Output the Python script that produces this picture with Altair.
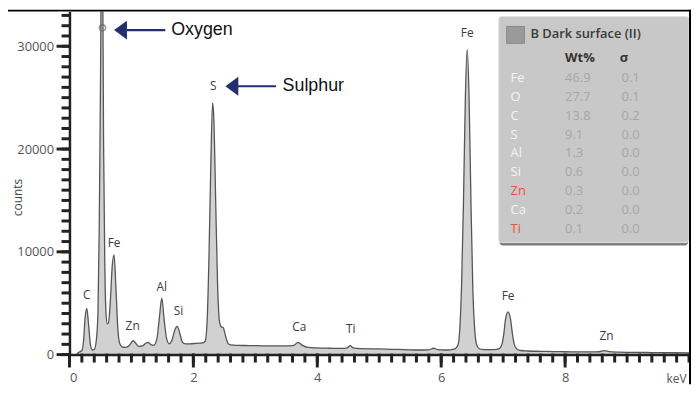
import altair as alt
import pandas as pd

# ---------------- spectrum ----------------
energy_kev = [0.12, 0.16, 0.2, 0.23, 0.25, 0.28, 0.31, 0.34, 0.37, 0.40, 0.43, 0.46, 0.48, 0.50,
              0.52, 0.535, 0.55, 0.57, 0.59, 0.61, 0.63, 0.66, 0.69, 0.72, 0.75, 0.78, 0.81, 0.85,
              0.90, 0.95, 0.99, 1.03, 1.07, 1.12, 1.18, 1.23, 1.27, 1.31, 1.36, 1.41, 1.45, 1.49,
              1.53, 1.57, 1.61, 1.66, 1.70, 1.74, 1.78, 1.82, 1.87, 1.95, 2.05, 2.15, 2.19, 2.22,
              2.25, 2.28, 2.31, 2.33, 2.36, 2.39, 2.42, 2.45, 2.48, 2.52, 2.56, 2.60, 2.70, 2.90,
              3.10, 3.30, 3.50, 3.62, 3.69, 3.76, 3.85, 4.0, 4.2, 4.4, 4.48, 4.53, 4.58, 4.7, 5.0,
              5.3, 5.6, 5.8, 5.88, 5.95, 6.05, 6.15, 6.22, 6.27, 6.30, 6.33, 6.36, 6.39, 6.42, 6.45,
              6.48, 6.51, 6.54, 6.57, 6.61, 6.66, 6.75, 6.85, 6.93, 6.98, 7.01, 7.04, 7.08, 7.12,
              7.15, 7.18, 7.22, 7.28, 7.4, 7.6, 7.8, 8.0, 8.2, 8.4, 8.55, 8.63, 8.71, 8.85, 9.1,
              9.4, 9.7, 10.0]
counts = [100, 250, 400, 1500, 3400, 4500, 2800, 900, 450, 500, 1200, 4000, 12000, 26000,
          40000, 38000, 21000, 9000, 4000, 3000, 3100, 5200, 8600, 9700, 6500, 2600, 1100, 750,
          700, 800, 1100, 1350, 1100, 800, 850, 1100, 1200, 1000, 900, 1500, 3500, 5500,
          3300, 1500, 1050, 1500, 2400, 2750, 2100, 1250, 1050, 1050, 1100, 1150, 1300, 3000,
          9000, 18000, 24500, 23000, 15000, 7000, 3300, 2700, 2640, 1800, 1100, 950, 900, 880,
          860, 850, 840, 900, 1200, 900, 700, 650, 620, 600, 650, 870, 650, 580, 550,
          500, 450, 470, 620, 480, 450, 470, 550, 900, 2500, 7000, 15000, 25000, 29700, 25000,
          15000, 6500, 2500, 1000, 600, 500, 480, 480, 550, 1000, 2000, 3500, 4150, 3400,
          2000, 1000, 550, 400, 350, 320, 300, 280, 270, 260, 280, 380, 280, 240, 220,
          200, 180, 170]

# peak labels
peak_names = ["C", "Fe", "Zn", "Al", "Si", "S", "Ca", "Ti", "Fe", "Fe", "Zn"]
peak_label_kev = [0.28, 0.72, 1.02, 1.49, 1.76, 2.32, 3.71, 4.54, 6.42, 7.08, 8.67]
peak_label_counts = [5786, 10869, 2797, 6529, 4214, 26107, 2671, 2478, 31266, 5690, 1832]

# arrow annotations
ann_text = ["Oxygen", "Sulphur"]
ann_head_kev = [0.824, 2.621]
ann_tail_from_kev = [0.928, 2.709]
ann_tail_to_kev = [1.547, 3.333]
ann_text_kev = [1.643, 3.44]
ann_counts = [31575, 26107]

marker_kev = [0.533]
marker_counts = [31790]

# inset table
tbl_elements = ["Fe", "O", "C", "S", "Al", "Si", "Zn", "Ca", "Ti"]
tbl_wt = ["46.9", "27.7", "13.8", "9.1", "1.3", "0.6", "0.3", "0.2", "0.1"]
tbl_sigma = ["0.1", "0.1", "0.2", "0.0", "0.0", "0.0", "0.0", "0.0", "0.0"]
tbl_el_color = ["#f4f4f4", "#f4f4f4", "#f4f4f4", "#f4f4f4", "#f4f4f4", "#f4f4f4",
                "#e4553a", "#f4f4f4", "#e4553a"]
tbl_title = "B Dark surface (II)"

x_major = [0, 2, 4, 6, 8]
x_minor = [round(0.2 * i, 1) for i in range(51)]
y_major = [0, 10000, 20000, 30000]
y_minor = [1000 * i for i in range(34)]

W, H = 625, 346
XDOM = [0, 10]
YDOM = [0, 33370]
FONT = "Open Sans"
AX = "#222222"

spec = pd.DataFrame({"E": energy_kev, "counts": counts})
peaks = pd.DataFrame({"name": peak_names, "E": peak_label_kev, "counts": peak_label_counts})
ann = pd.DataFrame({"text": ann_text, "head": ann_head_kev, "t0": ann_tail_from_kev,
                    "t1": ann_tail_to_kev, "tx": ann_text_kev, "counts": ann_counts})
marker = pd.DataFrame({"E": marker_kev, "counts": marker_counts})
tbl = pd.DataFrame({"el": tbl_elements, "wt": tbl_wt, "sig": tbl_sigma,
                    "col": tbl_el_color, "row": list(range(len(tbl_elements)))})
xmaj = pd.DataFrame({"E": x_major})
xmin = pd.DataFrame({"E": x_minor})
ymaj = pd.DataFrame({"counts": y_major})
ymin = pd.DataFrame({"counts": y_minor})
one = pd.DataFrame({"a": [0]})

xs = alt.Scale(domain=XDOM, nice=False, zero=False)
ys = alt.Scale(domain=YDOM, nice=False)

major_x = alt.Axis(values=x_major, format="d", ticks=False, domainColor=AX, domainWidth=2.5,
                   labelFontSize=13, labelColor="#555", labelFont=FONT, labelPadding=23,
                   labelBaseline="middle", grid=False, zindex=1,
                   title="keV", titleX=W - 3, titleY=24, titleAlign="right",
                   titleBaseline="middle", titleFontWeight="normal", titleFontSize=12,
                   titleFont=FONT, titleColor="#555")
major_y = alt.Axis(values=y_major, format="d", ticks=False, domainColor=AX, domainWidth=2.5,
                   labelFontSize=13, labelColor="#555", labelFont=FONT, labelPadding=16,
                   grid=False, zindex=1,
                   title="counts", titleX=-52, titleY=187, titleAlign="center",
                   titleBaseline="middle", titleFontWeight="normal", titleFontSize=12,
                   titleFont=FONT, titleColor="#444")

area = alt.Chart(spec).mark_area(
    color="#bebebe", line={"color": "#555555", "strokeWidth": 1.3},
    interpolate="monotone", clip=True
).encode(x=alt.X("E:Q", scale=xs, axis=major_x),
         y=alt.Y("counts:Q", scale=ys, axis=major_y))

# tick marks drawn through the scales
tick_xmaj = alt.Chart(xmaj).mark_rule(color=AX, strokeWidth=3, clip=False).encode(
    x="E:Q", y=alt.value(H - 1), y2=alt.value(H + 13))
tick_xmin = alt.Chart(xmin).mark_rule(color=AX, strokeWidth=3, clip=False).encode(
    x="E:Q", y=alt.value(H - 1), y2=alt.value(H + 8))
tick_ymaj = alt.Chart(ymaj).mark_rule(color=AX, strokeWidth=3, clip=False).encode(
    y="counts:Q", x=alt.value(-13), x2=alt.value(1))
tick_ymin = alt.Chart(ymin).mark_rule(color=AX, strokeWidth=3, clip=False).encode(
    y="counts:Q", x=alt.value(-8), x2=alt.value(1))

circ = alt.Chart(marker).mark_point(shape="circle", size=40, filled=False,
                                    color="#666", strokeWidth=1.5).encode(
    x="E:Q", y="counts:Q")

plabels = alt.Chart(peaks).mark_text(font=FONT, fontSize=12, color="#3c3c3c",
                                     baseline="middle").encode(
    x="E:Q", y="counts:Q", text="name:N")

navy = "#23306e"
arrow_line = alt.Chart(ann).mark_rule(color=navy, strokeWidth=2.2).encode(
    x="t0:Q", x2="t1:Q", y="counts:Q")
arrow_head = alt.Chart(ann).mark_point(
    shape="M -1 0 L 1 -1.46 L 1 1.46 Z", size=169, filled=True, color=navy, opacity=1
).encode(x="head:Q", y="counts:Q")
arrow_text = alt.Chart(ann).mark_text(font="Liberation Sans", fontSize=18, color="#111",
                                      align="left", baseline="middle").encode(
    x="tx:Q", y="counts:Q", text="text:N")

# inset panel (pixel layout)
shadow = alt.Chart(one).mark_rect(color="#5a5a5a", opacity=0.8, cornerRadius=3).encode(
    x=alt.value(434), x2=alt.value(W - 1), y=alt.value(8), y2=alt.value(236))
panel = alt.Chart(one).mark_rect(color="#c8c8c8", stroke="#e2e2e2", strokeWidth=1,
                                 cornerRadius=3).encode(
    x=alt.value(433), x2=alt.value(W), y=alt.value(5), y2=alt.value(233))
swatch = alt.Chart(one).mark_rect(color="#9a9a9a", stroke="#8a8a8a").encode(
    x=alt.value(441), x2=alt.value(459), y=alt.value(15), y2=alt.value(32))
ttl = alt.Chart(one).mark_text(text=tbl_title, font=FONT, fontSize=13, fontWeight=600,
                               color="#3a3a3a", align="left", baseline="middle").encode(
    x=alt.value(465), y=alt.value(23))
hdr_wt = alt.Chart(one).mark_text(text="Wt%", font=FONT, fontSize=13, fontWeight="bold",
                                  color="#333", align="left", baseline="middle").encode(
    x=alt.value(500), y=alt.value(47))
hdr_sig = alt.Chart(one).mark_text(text="σ", font=FONT, fontSize=13, fontWeight="bold",
                                   color="#333", align="left", baseline="middle").encode(
    x=alt.value(555), y=alt.value(47))

tbase = alt.Chart(tbl).transform_calculate(ypx="67 + 19 * datum.row")
t_el = tbase.mark_text(font=FONT, fontSize=13, align="left", baseline="middle").encode(
    x=alt.value(445), y=alt.Y("ypx:Q", scale=None, axis=None),
    text="el:N", color=alt.Color("col:N", scale=None))
t_wt = tbase.mark_text(font=FONT, fontSize=13, align="left", baseline="middle",
                       color="#a6a6a6").encode(
    x=alt.value(500), y=alt.Y("ypx:Q", scale=None, axis=None), text="wt:N")
t_sig = tbase.mark_text(font=FONT, fontSize=13, align="left", baseline="middle",
                        color="#a6a6a6").encode(
    x=alt.value(557), y=alt.Y("ypx:Q", scale=None, axis=None), text="sig:N")

# frame
top_band = alt.Chart(one).mark_rect(color="#000").encode(
    x=alt.value(-62), x2=alt.value(W + 2), y=alt.value(-2), y2=alt.value(0))
right_band = alt.Chart(one).mark_rect(color="#000").encode(
    x=alt.value(W), x2=alt.value(W + 2), y=alt.value(-2), y2=alt.value(H + 30))

chart = alt.layer(
    area, tick_xmaj, tick_xmin, tick_ymaj, tick_ymin, circ, plabels,
    arrow_line, arrow_head, arrow_text,
    shadow, panel, swatch, ttl, hdr_wt, hdr_sig, t_el, t_wt, t_sig,
    top_band, right_band
).properties(
    width=W, height=H,
    padding={"left": 62, "top": 2, "right": 2, "bottom": 29},
    autosize=alt.AutoSizeParams(type="none"),
    background="white"
).configure_view(strokeWidth=0)

chart.save("out.html", embed_options={"renderer": "svg", "actions": False})
